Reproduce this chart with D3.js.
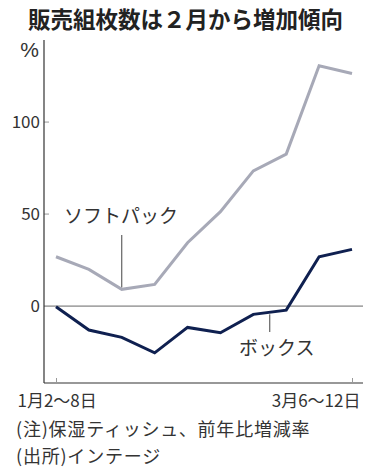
<!DOCTYPE html>
<html>
<head>
<meta charset="utf-8">
<script src="https://cdn.jsdelivr.net/npm/d3@7"></script>
<style>
  body { margin: 0; background: #fff; }
  svg { display: block; font-family: "Noto Sans CJK JP", "Noto Sans", sans-serif; }
</style>
</head>
<body>
<div id="chart"></div>
<script>
const width = 375;
const height = 476;

// weekly data, Jan 2-8 .. Mar 6-12
const weeks = ["1月2〜8日", "1月9〜15日", "1月16〜22日", "1月23〜29日", "1月30〜2月5日",
  "2月6〜12日", "2月13〜19日", "2月20〜26日", "2月27〜3月5日", "3月6〜12日"];
const softPack = [26.8, 19.9, 9.1, 11.8, 34.4, 51.3, 73.5, 82.6, 130.6, 126.4];
const box = [-0.4, -13, -17, -25.4, -11.6, -14.5, -4.5, -2.2, 26.8, 30.8];
const yTicks = [0, 50, 100];
const xTickLabels = ["1月2〜8日", "3月6〜12日"];

const margin = {top: 40, right: 12, bottom: 93, left: 44};
const innerW = width - margin.left - margin.right;
const innerH = height - margin.top - margin.bottom;

const xScale = d3.scalePoint()
  .domain(weeks)
  .range([12, 308]);

const yScale = d3.scaleLinear()
  .domain([-41.8, 144.6])
  .range([innerH, 0]);

const svg = d3.select("#chart")
  .append("svg")
  .attr("width", width)
  .attr("height", height);

// title
svg.append("text")
  .attr("x", 28)
  .attr("y", 28)
  .attr("font-size", "22.5px")
  .attr("font-weight", "bold")
  .attr("fill", "#222")
  .text("販売組枚数は２月から増加傾向");

const g = svg.append("g")
  .attr("transform", `translate(${margin.left}, ${margin.top})`);

// y axis
const yAxis = d3.axisLeft(yScale)
  .tickValues(yTicks)
  .tickSize(0)
  .tickPadding(4);

const yAxisWithG = g.append("g").call(yAxis);
yAxisWithG.select(".domain").remove();
yAxisWithG.selectAll("text")
  .attr("font-size", "17px")
  .attr("fill", "#333")
  .attr("font-family", "'Liberation Sans Narrow', 'Noto Sans CJK JP', sans-serif");

// small ticks on the inside
g.selectAll("line.ytick")
  .data(yTicks.filter(d => d !== 0))
  .enter().append("line")
  .attr("class", "ytick")
  .attr("x1", 0).attr("x2", 5)
  .attr("y1", d => yScale(d)).attr("y2", d => yScale(d))
  .attr("stroke", "#999")
  .attr("stroke-width", 1);

// % unit
g.append("text")
  .attr("x", -5)
  .attr("y", yScale(144.6) + 17)
  .attr("text-anchor", "end")
  .attr("font-size", "21px")
  .attr("font-family", "'Liberation Sans Narrow', sans-serif")
  .attr("fill", "#333")
  .text("%");

// zero line
g.append("line")
  .attr("x1", 0).attr("x2", innerW)
  .attr("y1", yScale(0)).attr("y2", yScale(0))
  .attr("stroke", "#666")
  .attr("stroke-width", 1);

// axis frame (left + bottom)
g.append("line")
  .attr("x1", 0).attr("x2", 0)
  .attr("y1", 0).attr("y2", innerH)
  .attr("stroke", "#333")
  .attr("stroke-width", 1.2);

const xAxis = d3.axisBottom(xScale)
  .tickValues(xTickLabels)
  .tickSize(-5)
  .tickPadding(12);

const xAxisWithG = g.append("g")
  .attr("transform", `translate(0, ${innerH})`)
  .call(xAxis);
xAxisWithG.select(".domain")
  .attr("d", `M0,0H${innerW}`)
  .attr("stroke", "#333")
  .attr("stroke-width", 1.2);
xAxisWithG.selectAll(".tick line").attr("stroke", "#999");
xAxisWithG.selectAll("text")
  .attr("font-size", "17px")
  .attr("fill", "#333")
  .attr("font-family", "'Noto Sans CJK JP', sans-serif");
xAxisWithG.selectAll(".tick text")
  .attr("text-anchor", (d, i) => i === 0 ? "start" : "end")
  .attr("dx", (d, i) => i === 0 ? "-39px" : "8px");

// lines
const line = d3.line()
  .x((d, i) => xScale(weeks[i]))
  .y(d => yScale(d));

g.append("path")
  .datum(softPack)
  .attr("fill", "none")
  .attr("stroke", "#a7a9b7")
  .attr("stroke-width", 3)
  .attr("d", line);

g.append("path")
  .datum(box)
  .attr("fill", "none")
  .attr("stroke", "#0f2050")
  .attr("stroke-width", 3)
  .attr("d", line);

// labels with leader lines
g.append("line")
  .attr("x1", xScale(weeks[2])).attr("x2", xScale(weeks[2]))
  .attr("y1", 195).attr("y2", yScale(softPack[2]) - 2)
  .attr("stroke", "#444").attr("stroke-width", 1);

g.append("text")
  .attr("x", 20)
  .attr("y", 183)
  .attr("font-size", "19px")
  .attr("fill", "#333")
  .text("ソフトパック");

g.append("line")
  .attr("x1", (xScale(weeks[6]) + xScale(weeks[7])) / 2)
  .attr("x2", (xScale(weeks[6]) + xScale(weeks[7])) / 2)
  .attr("y1", yScale(-3.4) + 2).attr("y2", 292)
  .attr("stroke", "#444").attr("stroke-width", 1);

g.append("text")
  .attr("x", 195)
  .attr("y", 315)
  .attr("font-size", "19px")
  .attr("fill", "#333")
  .text("ボックス");

// notes
svg.append("text")
  .attr("x", 16)
  .attr("y", 436)
  .attr("font-size", "18px")
  .attr("letter-spacing", "0.8px")
  .attr("fill", "#333")
  .text("(注)保湿ティッシュ、前年比増減率");

svg.append("text")
  .attr("x", 16)
  .attr("y", 463)
  .attr("font-size", "18px")
  .attr("letter-spacing", "0.8px")
  .attr("fill", "#333")
  .text("(出所)インテージ");
</script>
</body>
</html>
